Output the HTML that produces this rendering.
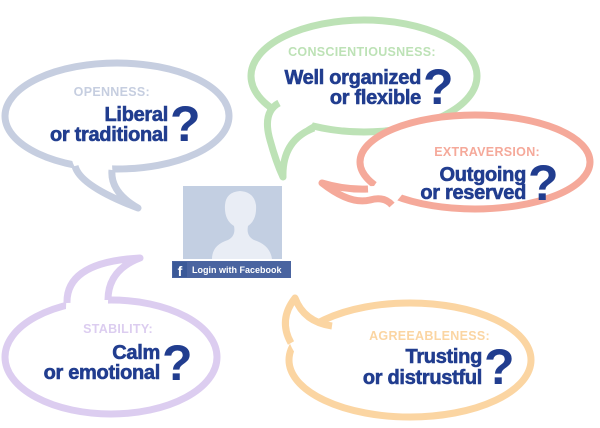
<!DOCTYPE html>
<html><head><meta charset="utf-8"><style>
html,body{margin:0;padding:0;background:#fff;}
svg{display:block}
.lab{font-family:"Liberation Sans",sans-serif;font-weight:bold;font-size:12.5px;letter-spacing:0.3px}
.m{font-family:"Liberation Sans",sans-serif;font-weight:bold;font-size:20px;fill:#213d8f;letter-spacing:-0.3px;stroke:#213d8f;stroke-width:0.6}
.q{font-family:"Liberation Sans",sans-serif;font-weight:bold;font-size:50px;fill:#213d8f}
</style></head><body>
<svg width="600" height="428" viewBox="0 0 600 428" xmlns="http://www.w3.org/2000/svg">
<!-- Openness -->
<g stroke="#c6cee0" stroke-width="7" fill="#fff">
<ellipse cx="117" cy="116" rx="112" ry="53"/>
<path d="M72 160 Q78 185 138 208 Q112 190 112 164 L112 140 L72 140 Z" stroke="none"/>
<path d="M75 166 Q80 186 138 208 Q110 192 112 170" fill="none" stroke-linejoin="round"/>
</g>
<text class="lab" x="150" y="96" text-anchor="end" fill="#c6cee0">OPENNESS:</text>
<text class="m" x="168" y="121" text-anchor="end">Liberal</text>
<text class="m" x="168" y="141" text-anchor="end">or traditional</text>
<text class="q" x="170" y="141">?</text>

<!-- Conscientiousness -->
<g stroke="#bde2b6" stroke-width="7" fill="#fff">
<ellipse cx="364" cy="76" rx="113" ry="56"/>
<path d="M284 96 Q262 110 270 140 Q276 162 283 177 Q282 140 312 124 L325 100 L295 85 Z" stroke="none"/>
<path d="M279 103 Q262 112 270 140 Q276 162 283 177 Q282 140 314 128" fill="none" stroke-linejoin="round"/>
</g>
<text class="lab" x="362" y="56" text-anchor="middle" fill="#bde2b6">CONSCIENTIOUSNESS:</text>
<text class="m" x="421" y="84" text-anchor="end">Well organized</text>
<text class="m" x="421" y="104" text-anchor="end">or flexible</text>
<text class="q" x="423" y="104">?</text>

<!-- Extraversion -->
<g stroke="#f5a99a" stroke-width="7" fill="#fff">
<ellipse cx="475" cy="162" rx="115" ry="47"/>
<path d="M374 186 Q345 188 322 183 Q350 205 370 200 Q384 196 396 202 L410 185 L385 170 Z" stroke="none"/>
<path d="M368 189 Q345 190 322 183 Q350 205 370 200 Q384 196 392 205" fill="none" stroke-linejoin="round"/>
</g>
<text class="lab" x="540" y="156" text-anchor="end" fill="#f5a99a">EXTRAVERSION:</text>
<text class="m" x="526" y="181" text-anchor="end">Outgoing</text>
<text class="m" x="526" y="199" text-anchor="end">or reserved</text>
<text class="q" x="528" y="200">?</text>

<!-- Stability -->
<g stroke="#dccdf0" stroke-width="7" fill="#fff">
<ellipse cx="111" cy="357" rx="106" ry="57"/>
<path d="M66 308 Q66 262 140 258 Q108 270 108 302 L108 330 L66 330 Z" stroke="none"/>
<path d="M67 303 Q66 262 140 258 Q108 270 108 300" fill="none" stroke-linejoin="round"/>
</g>
<text class="lab" x="153" y="333" text-anchor="end" fill="#dccdf0">STABILITY:</text>
<text class="m" x="160" y="359" text-anchor="end">Calm</text>
<text class="m" x="160" y="379" text-anchor="end">or emotional</text>
<text class="q" x="162" y="380">?</text>

<!-- Agreeableness -->
<g stroke="#fbd5a2" stroke-width="7" fill="#fff">
<ellipse cx="410" cy="360" rx="121" ry="57"/>
<path d="M292 348 Q278 320 295 298 Q304 322 338 326 L348 348 L300 362 Z" stroke="none"/>
<path d="M291 343 Q278 320 295 298 Q304 322 332 326" fill="none" stroke-linejoin="round"/>
</g>
<text class="lab" x="490" y="340" text-anchor="end" fill="#fbd5a2">AGREEABLENESS:</text>
<text class="m" x="482" y="363" text-anchor="end">Trusting</text>
<text class="m" x="482" y="384" text-anchor="end">or distrustful</text>
<text class="q" x="484" y="384">?</text>

<!-- Facebook -->
<rect x="183" y="186" width="99" height="73" fill="#c3cfe2"/>
<path d="M212 259 Q212 245 228 240 Q236 236 234 226 Q224 220 225 205 Q226 192 240 191 Q254 192 256 205 Q257 220 248 226 Q246 236 254 240 Q270 245 272 259 Z" fill="#e9edf5"/>
<rect x="172" y="261" width="119" height="17" fill="#4a64a0"/>
<rect x="173" y="262" width="14" height="15" fill="#3b5998"/>
<text x="180" y="276" font-family="Liberation Sans,sans-serif" font-weight="bold" font-size="14" fill="#fff" text-anchor="middle">f</text>
<text x="192" y="273" font-family="Liberation Sans,sans-serif" font-weight="bold" font-size="9" fill="#fff">Login with Facebook</text>
</svg>
</body></html>
